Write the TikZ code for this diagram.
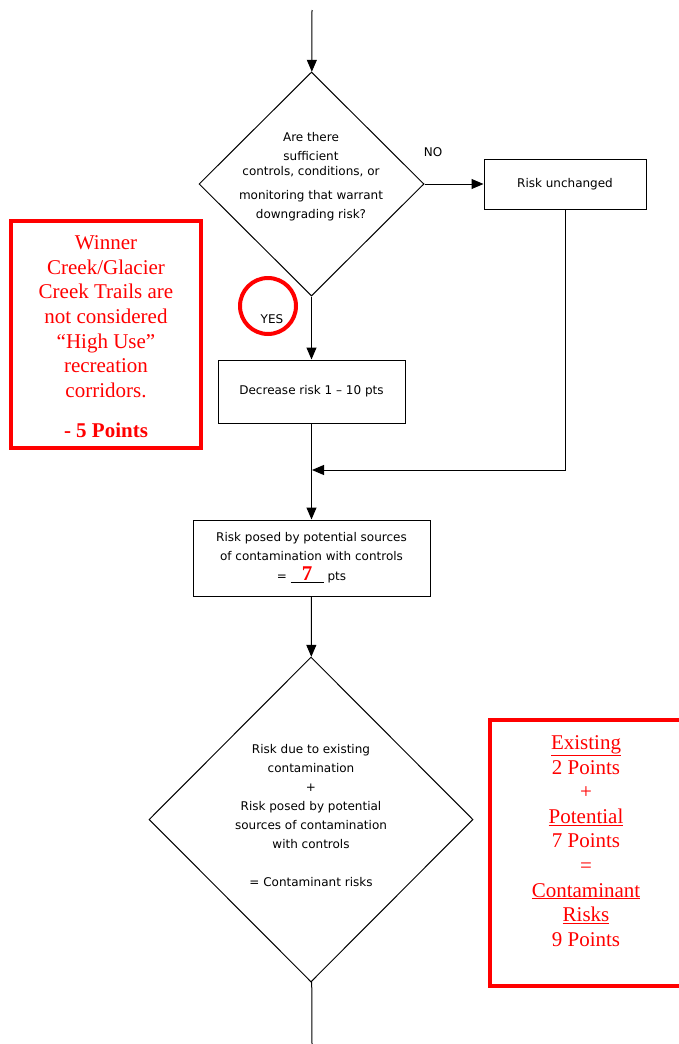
\documentclass[tikz,border=0pt]{standalone}
\usepackage{fontspec}
\setmainfont{Liberation Serif}
\setsansfont{DejaVu Sans}
\usetikzlibrary{arrows.meta,positioning,shapes.geometric}

\begin{document}
\begin{tikzpicture}[x=1pt, y=-1pt, line width=1pt,
  every node/.style={font=\fontsize{12}{19}\sffamily, align=center},
  flow/.style={-{Triangle[length=12pt,width=10pt]}},
  decision/.style={draw, diamond, inner sep=0pt},
  stepbox/.style={draw, rectangle, inner sep=0pt},
  note/.style={draw=red, line width=4pt, rectangle, inner sep=0pt},
  notetext/.style={text=red, font=\fontsize{21}{24.6}\rmfamily}]
  \useasboundingbox (0,0) rectangle (679,1044);
  % entry and exit
  \coordinate (start) at (312,10);
  \coordinate (end) at (312,1044);
  \coordinate (join) at (312,470);
  % first decision
  \node[decision, minimum width=225pt, minimum height=224pt] (ask) at (311.5,184) {};
  \node (asktext) at (311,177) {Are there\\ sufficient\\[-4pt] controls, conditions, or\\[5pt]
    monitoring that warrant\\ downgrading risk?};
  \node[stepbox, minimum width=162pt, minimum height=50pt] (same) at (565,184) {Risk unchanged};
  \node (no) at (433,152) {NO};
  % yes branch
  \node[draw=red, line width=4pt, circle, minimum size=56pt, inner sep=0pt] (mark) at (268,306) {};
  \node (yes) at (272,319) {YES};
  \node[stepbox, minimum width=187pt, minimum height=63pt] (lower) at (311.5,391.5) {Decrease risk 1 – 10 pts};
  % controlled risk
  \node[stepbox, minimum width=237pt, minimum height=76pt] (posed) at (311.5,558) {Risk posed by potential sources\\
    of contamination with controls\\[1pt]
    = \underline{\hbox to 33pt{\hss\textcolor{red}{\fontsize{21}{21}\rmfamily\bfseries 7}\hss}} pts};
  % second decision
  \node[decision, minimum width=324pt, minimum height=325pt] (total) at (311,819.5) {};
  \node (totaltext) at (311,816) {Risk due to existing\\ contamination\\ +\\ Risk posed by potential\\
    sources of contamination\\ with controls\\[19pt] = Contaminant risks};
  % red notes
  \node[note, minimum width=190pt, minimum height=227pt] (trails) at (106,334.5) {};
  \node[notetext] (trailstext) at (106,337) {Winner\\ Creek/Glacier\\ Creek Trails are\\ not considered\\
    “High Use”\\ recreation\\ corridors.\\[16pt] \textbf{- 5 Points}};
  \node[note, minimum width=200pt, minimum height=266pt] (sum) at (590,853) {};
  \node[notetext] (sumtext) at (586,841) {\underline{Existing}\\ 2 Points\\ +\\ \underline{Potential}\\ 7 Points\\ =\\
    \underline{Contaminant}\\ \underline{Risks}\\ 9 Points};
  % connectors
  \draw[flow] (start) -- (ask);
  \draw[flow] (ask) -- (same);
  \draw[flow] (same) |- (join);
  \draw[flow] (ask) -- (lower);
  \draw[flow] (lower) -- (posed);
  \draw[flow] (posed) -- (total);
  \draw (total) -- (end);
\end{tikzpicture}
\end{document}
